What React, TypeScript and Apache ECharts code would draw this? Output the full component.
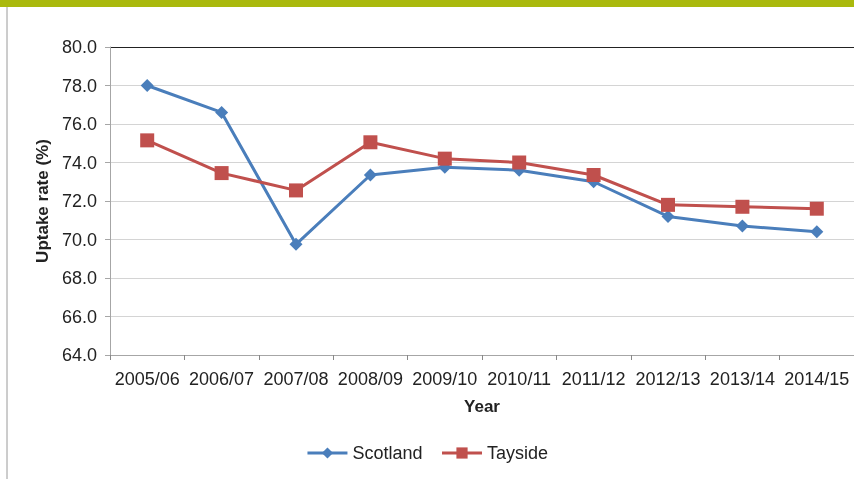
import React, { useEffect, useRef } from "react";
import * as echarts from "echarts";

const categories = ["2005/06", "2006/07", "2007/08", "2008/09", "2009/10", "2010/11", "2011/12", "2012/13", "2013/14", "2014/15"];
const scotland = [78.0, 76.6, 69.75, 73.35, 73.75, 73.6, 73.0, 71.2, 70.7, 70.4];
const tayside = [75.15, 73.45, 72.55, 75.05, 74.2, 74.0, 73.35, 71.8, 71.7, 71.6];

export default function App() {
  const ref = useRef<HTMLDivElement>(null);
  useEffect(() => {
    const chart = echarts.init(ref.current!, null, { renderer: "svg" });
    const font = "'Liberation Sans', Arial, sans-serif";
    chart.setOption({
      animation: false,
      textStyle: { fontFamily: font },
      graphic: [
        { type: "rect", shape: { x: 0, y: 0, width: 854, height: 7 }, style: { fill: "#aab90d" } },
        { type: "line", shape: { x1: 7, y1: 7, x2: 7, y2: 479 }, style: { stroke: "#9a9a9a", lineWidth: 1 } },
      ],
      grid: { left: 110, right: -6, top: 47, bottom: 124, containLabel: false },
      legend: {
        bottom: 12,
        left: "center",
        itemWidth: 40,
        itemHeight: 14,
        itemGap: 18,
        lineStyle: { width: 3 },
        textStyle: { fontSize: 18, color: "#222", fontFamily: font },
        data: ["Scotland", "Tayside"],
      },
      xAxis: {
        type: "category",
        data: categories,
        name: "Year",
        nameLocation: "middle",
        nameGap: 43,
        nameTextStyle: { fontSize: 17, fontWeight: "bold", color: "#222", fontFamily: font },
        axisLine: { lineStyle: { color: "#a6a6a6" } },
        axisTick: { show: true, length: 5, lineStyle: { color: "#888" } },
        axisLabel: { interval: 0, fontSize: 18, color: "#222", margin: 15, fontFamily: font },
      },
      yAxis: {
        type: "value",
        min: 64,
        max: 80,
        interval: 2,
        name: "Uptake rate (%)",
        nameLocation: "middle",
        nameGap: 56,
        nameTextStyle: { fontSize: 17, fontWeight: "bold", color: "#222", fontFamily: font },
        axisLine: { show: true, lineStyle: { color: "#a6a6a6" } },
        axisTick: { show: true, length: 5, lineStyle: { color: "#a6a6a6" } },
        axisLabel: { fontSize: 18, color: "#222", margin: 13, formatter: (v: number) => v.toFixed(1), fontFamily: font },
        splitLine: {
          lineStyle: {
            color: ["#d4d4d4", "#d4d4d4", "#d4d4d4", "#d4d4d4", "#d4d4d4", "#d4d4d4", "#d4d4d4", "#d4d4d4", "#222222"],
            width: 1,
          },
        },
      },
      series: [
        {
          name: "Scotland",
          type: "line",
          data: scotland,
          symbol: "diamond",
          symbolSize: 13,
          color: "#4a7ebb",
          lineStyle: { width: 3, color: "#4a7ebb" },
          itemStyle: { color: "#4a7ebb" },
          z: 2,
        },
        {
          name: "Tayside",
          type: "line",
          data: tayside,
          symbol: "rect",
          symbolSize: 14,
          color: "#c0504d",
          lineStyle: { width: 3, color: "#c0504d" },
          itemStyle: { color: "#c0504d" },
          z: 3,
        },
      ],
    });
    return () => chart.dispose();
  }, []);
  return <div ref={ref} style={{ width: 854, height: 479, position: "fixed", left: 0, top: 0 }} />;
}
